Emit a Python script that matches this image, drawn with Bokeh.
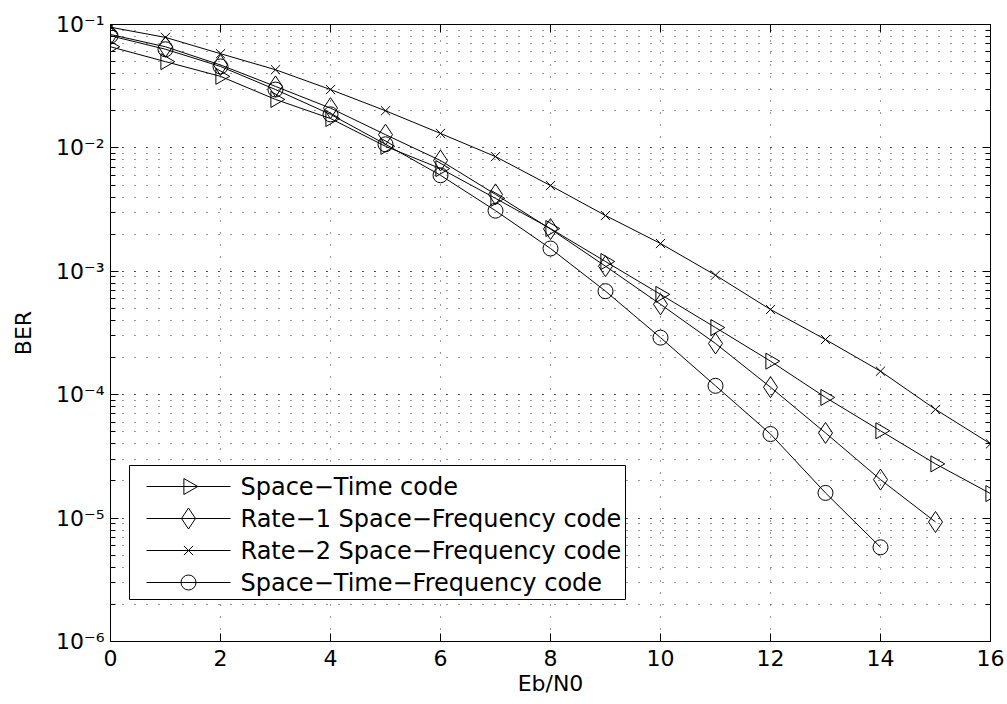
import numpy as np
from bokeh.plotting import figure
from bokeh.models import (LogAxis, LinearAxis, FixedTicker, LogTicker, Range1d,
                          LinearScale, CustomJSTickFormatter)
from bokeh.core.properties import value
from bokeh.embed import file_html
from bokeh.resources import INLINE

# ---------------- data ----------------
ebn0_st = [0, 1, 2, 3, 4, 5, 6, 7, 8, 9, 10, 11, 12, 13, 14, 15, 16]
ber_st = [0.066, 0.050, 0.038, 0.0247, 0.0173, 0.0103, 0.0068, 0.0039, 0.00222,
          0.0012, 6.5e-4, 3.5e-4, 1.87e-4, 9.5e-5, 5.1e-5, 2.75e-5, 1.58e-5]

ebn0_sf1 = [0, 1, 2, 3, 4, 5, 6, 7, 8, 9, 10, 11, 12, 13, 14, 15]
ber_sf1 = [0.083, 0.066, 0.047, 0.0315, 0.021, 0.0128, 0.0079, 0.0042, 0.0022,
           0.0011, 5.4e-4, 2.6e-4, 1.15e-4, 4.9e-5, 2.05e-5, 9.3e-6]

ebn0_sf2 = [0, 1, 2, 3, 4, 5, 6, 7, 8, 9, 10, 11, 12, 13, 14, 15, 16]
ber_sf2 = [0.095, 0.0786, 0.058, 0.043, 0.0297, 0.020, 0.0131, 0.0085, 0.00495,
           0.00283, 0.00168, 9.3e-4, 4.9e-4, 2.8e-4, 1.55e-4, 7.6e-5, 4.0e-5]

ebn0_stf = [0, 1, 2, 3, 4, 5, 6, 7, 8, 9, 10, 11, 12, 13, 14]
ber_stf = [0.081, 0.063, 0.0457, 0.0297, 0.0187, 0.0107, 0.006, 0.0031, 0.00153,
           6.9e-4, 2.9e-4, 1.18e-4, 4.8e-5, 1.6e-5, 5.8e-6]

labels = ["Space\u2212Time code",
          "Rate\u22121 Space\u2212Frequency code",
          "Rate\u22122 Space\u2212Frequency code",
          "Space\u2212Time\u2212Frequency code"]

x_ticks = [0, 2, 4, 6, 8, 10, 12, 14, 16]

FONT = "DejaVu Sans"
GRID_DASH = "1 11"
GRID_COLOR = "#333333"

# ---------------- layout ----------------
W, H = 1006, 703
BL, BR, BT, BB = 110, 16, 24, 62
FW, FH = W - BL - BR, H - BT - BB   # frame size in px (880 x 617)

p = figure(width=W, height=H, y_axis_type="log",
           x_range=(0, 16), y_range=(1e-6, 1e-1),
           output_backend="svg", toolbar_location=None,
           min_border_left=BL, min_border_right=BR,
           min_border_top=BT, min_border_bottom=BB)
p.background_fill_color = "white"
p.border_fill_color = "white"
p.outline_line_color = "black"
p.outline_line_width = 1

sup_code = """
const e = Math.round(Math.log10(tick));
const m = {"-":"\u207b","0":"\u2070","1":"\u00b9","2":"\u00b2","3":"\u00b3","4":"\u2074",
           "5":"\u2075","6":"\u2076","7":"\u2077","8":"\u2078","9":"\u2079"};
return "10" + String(e).split("").map(c => m[c]).join("");
"""

ya = p.yaxis[0]
ya.ticker = LogTicker(num_minor_ticks=10)
ya.formatter = CustomJSTickFormatter(code=sup_code)
ya.axis_label = "BER"
xa = p.xaxis[0]
xa.ticker = FixedTicker(ticks=x_ticks)
xa.axis_label = "Eb/N0"

for ax in (xa, ya):
    ax.major_label_text_font = FONT
    ax.major_label_text_font_size = "22px"
    ax.major_label_text_color = "black"
    ax.axis_label_text_font = FONT
    ax.axis_label_text_font_size = "22px"
    ax.axis_label_text_font_style = "normal"
    ax.axis_label_text_color = "black"
    ax.axis_line_color = "black"
    ax.major_tick_line_color = "black"
    ax.minor_tick_line_color = "black"
    ax.major_tick_in = 8
    ax.major_tick_out = 0
    ax.minor_tick_in = 5
    ax.minor_tick_out = 0
xa.minor_tick_line_color = None
xa.major_label_standoff = 8
xa.axis_label_standoff = 2
ya.major_label_standoff = 6
ya.axis_label_standoff = 17

# mirrored axes (box)
ra = LogAxis(ticker=LogTicker(num_minor_ticks=10),
             formatter=CustomJSTickFormatter(code="return '';"))
ta = LinearAxis(ticker=FixedTicker(ticks=x_ticks),
                formatter=CustomJSTickFormatter(code="return '';"))
for ax in (ra, ta):
    ax.axis_line_color = "black"
    ax.major_tick_line_color = "black"
    ax.minor_tick_line_color = "black"
    ax.major_tick_in = 8
    ax.major_tick_out = 0
    ax.minor_tick_in = 5
    ax.minor_tick_out = 0
    ax.major_label_standoff = 0
    ax.major_label_text_font_size = "1px"
ta.minor_tick_line_color = None
p.add_layout(ra, "right")
p.add_layout(ta, "above")

# grid
p.xgrid.ticker = FixedTicker(ticks=x_ticks)
p.xgrid.grid_line_color = GRID_COLOR
p.xgrid.grid_line_dash = GRID_DASH
p.ygrid.grid_line_color = GRID_COLOR
p.ygrid.grid_line_dash = GRID_DASH
p.ygrid.minor_grid_line_color = GRID_COLOR
p.ygrid.minor_grid_line_dash = GRID_DASH

markers = [
    dict(marker="triangle", size=16, angle=-np.pi / 2),
    dict(marker="diamond", size=21),
    dict(marker="x", size=13),
    dict(marker="circle", size=15),
]
series = [(ebn0_st, ber_st), (ebn0_sf1, ber_sf1),
          (ebn0_sf2, ber_sf2), (ebn0_stf, ber_stf)]

for (xs, ys), mk in zip(series, markers):
    p.line(xs, ys, line_color="black", line_width=1)
    p.scatter(xs, ys, line_color="black", line_width=1, fill_color=None, **mk)

# ---------------- legend (drawn in frame pixel coordinates) ----------------
p.extra_x_ranges = {"lx": Range1d(0, FW)}
p.extra_y_ranges = {"ly": Range1d(0, FH)}
p.extra_x_scales = {"lx": LinearScale()}
p.extra_y_scales = {"ly": LinearScale()}
LK = dict(x_range_name="lx", y_range_name="ly")

leg_left, leg_right, leg_bottom, leg_top = 19, 515, FH - 575, FH - 441
row_h = 32
row_y = [leg_top - 21 - row_h * i for i in range(len(labels))]
g0, g1, gm, tx = 36, 120, 78, 130

p.quad(left=[leg_left], right=[leg_right], bottom=[leg_bottom], top=[leg_top],
       fill_color="white", line_color="black", line_width=1, **LK)
p.segment(x0=[g0] * 4, x1=[g1] * 4, y0=row_y, y1=row_y,
          line_color="black", line_width=1, **LK)
for yy, mk in zip(row_y, markers):
    p.scatter([gm], [yy], line_color="black", line_width=1, fill_color=None,
              **mk, **LK)
p.text(x=[tx] * 4, y=row_y, text=labels, text_font=value(FONT),
       text_font_size="24px", text_color="black", text_baseline="middle",
       text_align="left", **LK)

open("out.html", "w").write(file_html(p, INLINE))
